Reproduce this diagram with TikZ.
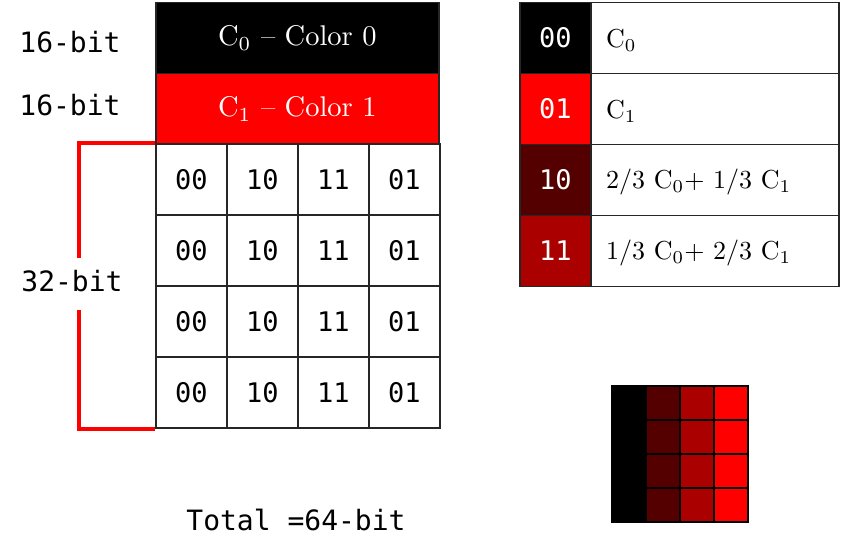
\documentclass[tikz,border=0pt]{standalone}
\usepackage{fontspec}
\setmonofont{DejaVu Sans Mono}
\definecolor{cdark}{HTML}{550000}
\definecolor{cmid}{HTML}{AA0000}
\definecolor{cred}{HTML}{FF0000}
\newcommand{\hdrtxt}[1]{\scalebox{2.85}{#1}}
\newcommand{\tabtxt}[1]{\scalebox{2.6}{#1}}
\begin{document}
\begin{tikzpicture}[x=1pt,y=-1pt,
  cell/.style={draw=black!85,line width=1.8pt,minimum width=71pt,minimum height=71pt,inner sep=0pt,anchor=north west,font=\ttfamily\fontsize{27}{27}\selectfont},
  hdr/.style={draw=black!85,line width=1.8pt,minimum width=283pt,minimum height=71pt,inner sep=0pt,anchor=north west,text=white},
  lbl/.style={font=\ttfamily\fontsize{28}{28}\selectfont,inner sep=0pt},
  keycell/.style={draw=black!85,line width=1.8pt,minimum width=71pt,minimum height=71pt,inner sep=0pt,anchor=north west,text=white,font=\ttfamily\fontsize{27}{27}\selectfont},
  desccell/.style={draw=black!85,line width=1.8pt,minimum width=248pt,minimum height=71pt,inner sep=0pt,anchor=north west},
  desctext/.style={anchor=west,inner sep=0pt},
  px/.style={draw=black,line width=2pt,minimum width=34pt,minimum height=34pt,inner sep=0pt,anchor=north west},
  brk/.style={draw=cred,line width=3.5pt}]
\useasboundingbox (0,0) rectangle (842,557);
% header blocks
\node[hdr,fill=black] (c0) at (155,1.5) {\hdrtxt{C$_0$ -- Color 0}};
\node[hdr,fill=cred] (c1) at (155,72.5) {\hdrtxt{C$_1$ -- Color 1}};
\node[lbl] (l16a) at (70,42) {16-bit};
\node[lbl] (l16b) at (70,105) {16-bit};
% index grid
\foreach \r in {1,...,4}{
  \foreach \c/\t in {1/00,2/10,3/11,4/01}{
    \node[cell] (g\r\c) at ({155+71*(\c-1)},{143+71*(\r-1)}) {\t};
  }
}
% bracket
\node[lbl] (l32) at (72,281) {32-bit};
\draw[brk] (g11.north west) -- ++(-76,0) coordinate (bt) -- ++(0,115) coordinate (btend);
\draw[brk] (g41.south west) -- ++(-76,0) coordinate (bb) -- ++(0,-119) coordinate (bbend);
\node[lbl] (tot) at (296,520) {Total =64-bit};
% legend table
\node[keycell,fill=black] (k0) at (519,1.5) {00};
\node[keycell,fill=cred] (k1) at (519,72.5) {01};
\node[keycell,fill=cdark] (k2) at (519,143.5) {10};
\node[keycell,fill=cmid] (k3) at (519,214.5) {11};
\node[desccell] (d0) at (590,1.5) {};
\node[desccell] (d1) at (590,72.5) {};
\node[desccell] (d2) at (590,143.5) {};
\node[desccell] (d3) at (590,214.5) {};
\node[desctext] (t0) at (606,40) {\tabtxt{C$_0$}};
\node[desctext] (t1) at (606,111) {\tabtxt{C$_1$}};
\node[desctext] (t2) at (606,182) {\tabtxt{2/3 C$_0$+ 1/3 C$_1$}};
\node[desctext] (t3) at (606,253) {\tabtxt{1/3 C$_0$+ 2/3 C$_1$}};
% decoded pixels
\foreach \r in {1,...,4}{
  \foreach \c/\col in {1/black,2/cdark,3/cmid,4/cred}{
    \node[px,fill=\col] (p\r\c) at ({611+34*(\c-1)},{385+34*(\r-1)}) {};
  }
}
\end{tikzpicture}
\end{document}
